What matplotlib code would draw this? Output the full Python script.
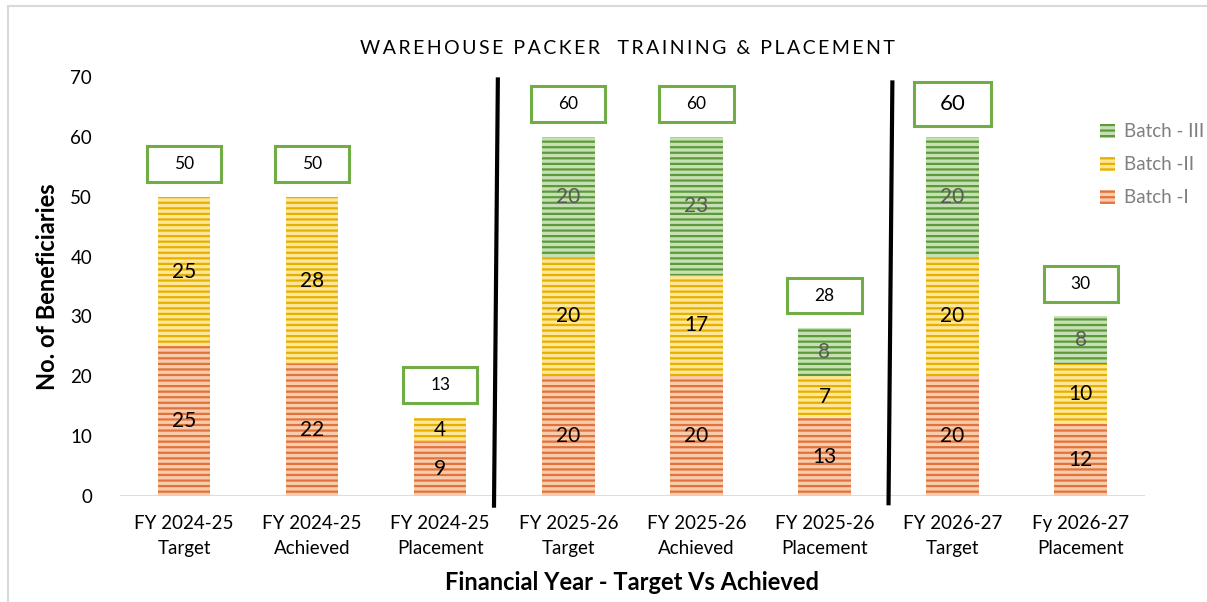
"""
Warehouse packer training & placement - stacked bars per financial year.
"""

import numpy as np
import matplotlib.pyplot as plt
from matplotlib.patches import Rectangle

plt.rcParams["font.family"] = ["Lato", "DejaVu Sans"]
plt.rcParams["hatch.linewidth"] = 1.6

categories = [
    "FY 2024-25\nTarget", "FY 2024-25\nAchieved", "FY 2024-25\nPlacement",
    "FY 2025-26\nTarget", "FY 2025-26\nAchieved", "FY 2025-26\nPlacement",
    "FY 2026-27\nTarget", "Fy 2026-27\nPlacement",
]
batch_1 = [25, 22, 9, 20, 20, 13, 20, 12]
batch_2 = [25, 28, 4, 20, 17, 7, 20, 10]
batch_3 = [0, 0, 0, 20, 23, 8, 20, 8]
totals = [50, 50, 13, 60, 60, 28, 60, 30]
series_names = ["Batch -I", "Batch -II", "Batch - III"]
title = "WAREHOUSE PACKER  TRAINING & PLACEMENT"

fig = plt.figure(figsize=(12.07, 6.02), dpi=100)
ax = fig.add_axes([0.0994, 0.176, 0.849, 0.696])

x = np.arange(len(categories))
width = 0.41

styles = [
    ("#F8CBAD", "#E0733A", "black"),
    ("#FFE699", "#E6B000", "black"),
    ("#C5E0B4", "#5E9A3A", "#595959"),
]
bottom = np.zeros(len(categories))
handles = []
for vals, name, (face, stripe, tcol) in zip([batch_1, batch_2, batch_3], series_names, styles):
    vals = np.array(vals, dtype=float)
    bars = ax.bar(x, vals, width, bottom=bottom, color=face, edgecolor=stripe,
                  hatch="---", linewidth=0, label=name, zorder=2)
    handles.append(bars)
    for xi, b, v in zip(x, bottom, vals):
        if v > 0:
            ax.text(xi, b + v / 2, f"{int(v)}", ha="center", va="center",
                    fontsize=15, color=tcol, zorder=3)
    bottom += vals

# total boxes above each bar
for xi, t in zip(x, totals):
    big = xi == 6
    bw, bh = (0.6, 7.3) if big else (0.58, 6.0)
    cy = t + 5.5
    ax.add_patch(Rectangle((xi - bw / 2, cy - bh / 2), bw, bh, facecolor="white",
                           edgecolor="#70AD47", lw=2.2, zorder=4, clip_on=False))
    ax.text(xi, cy, f"{t}", ha="center", va="center",
            fontsize=16 if big else 12.5, color="black", zorder=5)

# separators between financial years
ax.plot([2.45, 2.42], [69.6, -1.6], color="black", lw=3, clip_on=False, zorder=5)
ax.plot([5.53, 5.50], [69.1, -1.2], color="black", lw=3, clip_on=False, zorder=5)

ax.axhline(0, color="#D9D9D9", lw=2, zorder=1)
ax.set_xlim(-0.5, len(categories) - 0.5)
ax.set_ylim(0, 70)
ax.set_yticks(range(0, 71, 10))
ax.set_xticks(x)
ax.set_xticklabels(categories, fontsize=13.5, linespacing=1.55)
ax.tick_params(axis="both", length=0, labelsize=13.5, colors="black")
ax.tick_params(axis="y", pad=20)
ax.tick_params(axis="x", pad=14)
for s in ax.spines.values():
    s.set_visible(False)

ax.set_ylabel("No. of Beneficiaries", fontsize=17, fontweight="bold", labelpad=8)
ax.set_xlabel("Financial Year - Target Vs Achieved", fontsize=17,
              fontweight="bold", labelpad=10)
fig.text(0.52, 0.92, "\u2009".join(title), ha="center",
         va="center", fontsize=14, color="black")

leg = fig.legend(handles[::-1], series_names[::-1], loc="upper left",
                 bbox_to_anchor=(0.897, 0.823), frameon=False, fontsize=13.5,
                 labelcolor="#7F7F7F", handlelength=0.8, handleheight=0.8,
                 labelspacing=0.85, handletextpad=0.5)

fig.patches.append(Rectangle((0.007, -0.01), 1.0, 1.0, transform=fig.transFigure,
                             fill=False, edgecolor="#D9D9D9", lw=1.5))

fig.savefig("out.png", dpi=100)
